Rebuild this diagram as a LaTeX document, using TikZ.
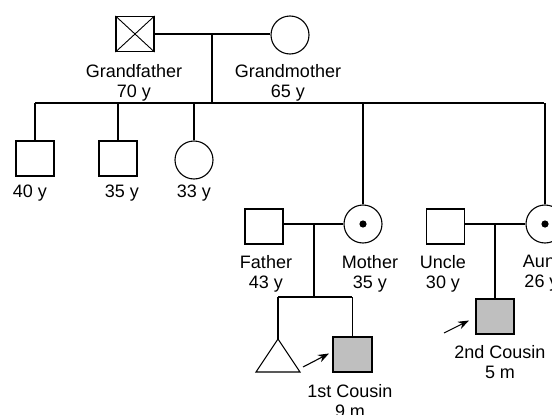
\documentclass[tikz,border=0pt]{standalone}
\usepackage{fontspec}
\setmainfont{Liberation Sans}
\usetikzlibrary{arrows.meta}
\begin{document}
\begin{tikzpicture}[x=1pt,y=-1pt,line width=1.1pt,
  male/.style={draw,rectangle,minimum width=38pt,minimum height=35pt,inner sep=0pt},
  female/.style={draw,circle,minimum size=38pt,inner sep=0pt},
  affected/.style={fill=black!25},
  lbl/.style={anchor=north,align=center,inner sep=0pt,font=\fontsize{18}{19.5}\selectfont},
  proband/.style={-{Stealth[length=11pt,width=8pt]},line width=1.1pt}]
\clip (0,0) rectangle (552,415);
% grandparents
\node[male] (gf) at (135,34) {};
\draw[line width=0.9pt] (gf.north west) -- (gf.south east) (gf.north east) -- (gf.south west);
\node[female] (gm) at (290,35) {};
\node[lbl] (gfl) at (134,64) {Grandfather\\70 y};
\node[lbl] (gml) at (288,64) {Grandmother\\65 y};
\draw (gf.east) -- (gm.west |- gf.east);
\coordinate (gpm) at (212,34);
\coordinate (sibL) at (35,103);
\coordinate (sibR) at (544,103);
\draw (gpm) -- (gpm |- sibL);
\draw (sibL) -- (sibR);
% children of grandparents
\node[male] (c1) at (35,158.5) {};
\node[male] (c2) at (118,158.5) {};
\node[female] (c3) at (194,160) {};
\node[lbl] (c1l) at (30,184) {40 y};
\node[lbl] (c2l) at (122,184) {35 y};
\node[lbl] (c3l) at (194,184) {33 y};
\draw (c1.north) -- (c1.north |- sibL);
\draw (c2.north) -- (c2.north |- sibL);
\draw (c3.north) -- (c3.north |- sibL);
% father & mother
\node[male] (fa) at (264,226.5) {};
\node[female] (mo) at (363,224) {};
\fill (mo.center) circle (3.6pt);
\node[lbl] (fal) at (266,255) {Father\\43 y};
\node[lbl] (mol) at (370,255) {Mother\\35 y};
\draw (mo.north) -- (mo.north |- sibL);
\draw (fa.east |- mo.west) -- (mo.west);
\coordinate (fpm) at (314,224);
\coordinate (fsibL) at (278,297);
\coordinate (fsibR) at (352,297);
\draw (fpm) -- (fpm |- fsibL);
\draw (fsibL) -- (fsibR);
% sibling (triangle) and 1st cousin
\coordinate (tri) at (278,339);
\draw (tri) -- (300,372) -- (256,372) -- cycle;
\draw (fsibL) -- (tri);
\node[male,affected,minimum width=39pt] (fc) at (352.5,354.5) {};
\draw (fc.north) -- (fc.north |- fsibR);
\node[lbl] (fcl) at (350,384) {1st Cousin\\9 m};
\coordinate (a1s) at (303,367);
\coordinate (a1e) at (329,353.5);
\draw[proband] (a1s) -- (a1e);
% uncle & aunt
\node[male] (un) at (445.5,226.5) {};
\node[female] (au) at (545,224) {};
\fill (au.center) circle (3.6pt);
\draw (au.north) -- (au.north |- sibR);
\node[lbl] (unl) at (443,255) {Uncle\\30 y};
\node[lbl] (aul) at (541.5,255) {Aunt\\26 y};
\draw (un.east |- au.west) -- (au.west);
\node[male,affected] (sc) at (495,316.5) {};
\coordinate (upm) at (495,224);
\draw (upm) -- (sc.north);
\node[lbl] (scl) at (500,345) {2nd Cousin\\5 m};
\coordinate (a2s) at (444,333);
\coordinate (a2e) at (469,320.5);
\draw[proband] (a2s) -- (a2e);
\end{tikzpicture}
\end{document}
